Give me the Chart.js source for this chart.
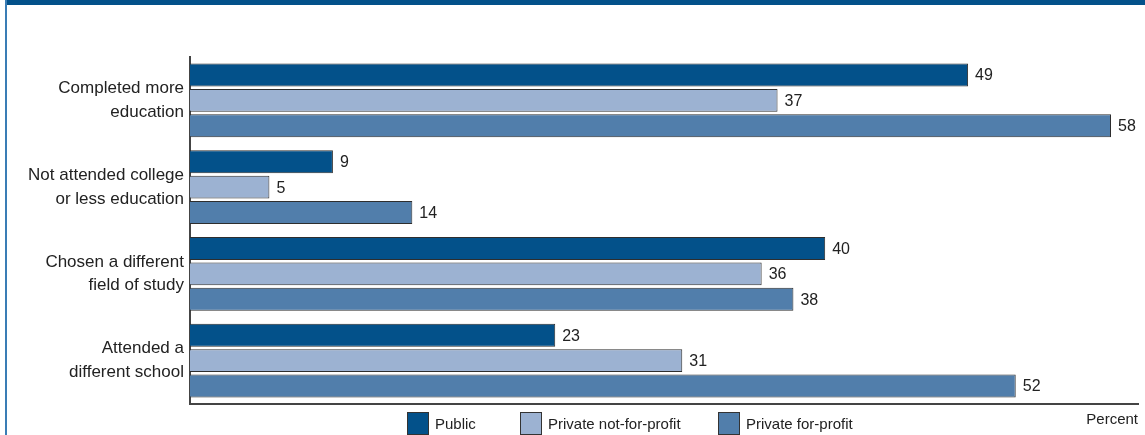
<!DOCTYPE html>
<html>
<head>
<meta charset="utf-8">
<script src="https://cdn.jsdelivr.net/npm/chart.js@4/dist/chart.umd.min.js"></script>
<style>
  html, body { margin: 0; padding: 0; background: #fff; }
  #wrap { position: relative; width: 1145px; height: 435px; overflow: hidden; font-family: 'Liberation Sans', Arial, sans-serif; }
  #chart { position: absolute; left: 0; top: 0; }
  /* blue frame round the figure */
  .band { position: absolute; left: 5px; top: 0; width: 1140px; height: 5px; background: #03518a; }
  .edge { position: absolute; left: 5px; top: 0; width: 2px; height: 435px; background: #3a7db5; }
  #legend { position: absolute; left: 407px; top: 412px; display: flex; font-size: 15px; color: #222; }
  #legend .item { display: flex; align-items: flex-start; }
  #legend .item:nth-child(1) { width: 113px; }
  #legend .item:nth-child(2) { width: 198px; }
  #legend .box { width: 20px; height: 21px; border: 1px solid #333; margin-right: 6px; }
  #legend .label { line-height: 24px; }
</style>
</head>
<body>
<div id="wrap">
  <canvas id="chart" width="1145" height="435"></canvas>
  <div class="band"></div>
  <div class="edge"></div>
  <div id="legend"></div>
</div>
<script>
// Share of graduates who would have done things differently, by sector
const categories = [
  ['Completed more', 'education'],
  ['Not attended college', 'or less education'],
  ['Chosen a different', 'field of study'],
  ['Attended a', 'different school']
];
const seriesNames = ['Public', 'Private not-for-profit', 'Private for-profit'];
const publicValues = [49, 9, 40, 23];
const notForProfitValues = [37, 5, 36, 31];
const forProfitValues = [58, 14, 38, 52];
const xMax = 59.7;

const seriesColors = ['#03518a', '#9cb2d2', '#517eab'];
const seriesValues = [publicValues, notForProfitValues, forProfitValues];

// numbers printed at the end of each bar
const valueLabels = {
  id: 'valueLabels',
  afterDatasetsDraw(chart) {
    const ctx = chart.ctx;
    ctx.save();
    ctx.font = '16px "Liberation Sans", Arial, sans-serif';
    ctx.fillStyle = '#222';
    ctx.textAlign = 'left';
    ctx.textBaseline = 'middle';
    chart.data.datasets.forEach((ds, i) => {
      chart.getDatasetMeta(i).data.forEach((bar, j) => {
        ctx.fillText(ds.data[j], bar.x + 7, bar.y + 1);
      });
    });
    ctx.restore();
  }
};

new Chart(document.getElementById('chart'), {
  type: 'bar',
  data: {
    labels: categories,
    datasets: seriesValues.map((vals, i) => ({
      label: seriesNames[i],
      data: vals,
      backgroundColor: seriesColors[i],
      borderColor: '#2e2e2e',
      borderWidth: 1,
      categoryPercentage: 0.88,
      barPercentage: 0.9
    }))
  },
  options: {
    indexAxis: 'y',
    responsive: false,
    animation: false,
    layout: { padding: { top: 57, right: 7, bottom: 0, left: 0 } },
    plugins: {
      legend: { display: false },
      tooltip: { enabled: false }
    },
    scales: {
      x: {
        min: 0,
        max: xMax,
        grid: { display: false },
        border: { color: '#444', width: 2 },
        ticks: { display: false },
        title: {
          display: true,
          text: 'Percent',
          align: 'end',
          color: '#222',
          font: { family: '"Liberation Sans", Arial, sans-serif', size: 15 },
          padding: { top: 0, bottom: 6 }
        },
        afterFit(scale) { scale.height = 31; }
      },
      y: {
        grid: { display: false, drawTicks: false },
        border: { color: '#444', width: 2 },
        ticks: {
          color: '#222',
          padding: 6,
          font: { family: '"Liberation Sans", Arial, sans-serif', size: 17, lineHeight: 1.4 }
        },
        afterFit(scale) { scale.width = 190; }
      }
    }
  },
  plugins: [valueLabels]
});

// legend under the plot
const legend = document.getElementById('legend');
seriesNames.forEach((name, i) => {
  const item = document.createElement('div');
  item.className = 'item';
  item.innerHTML = '<span class="box" style="background:' + seriesColors[i] + '"></span><span class="label">' + name + '</span>';
  legend.appendChild(item);
});
</script>
</body>
</html>
